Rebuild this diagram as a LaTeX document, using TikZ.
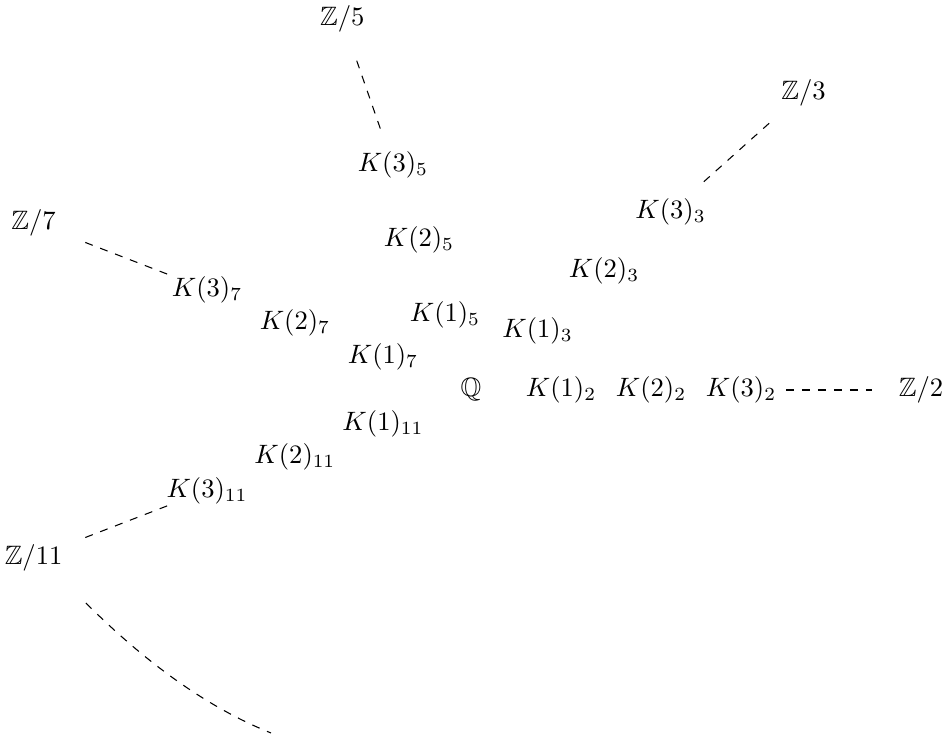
\documentclass[tikz,border=0pt]{standalone}
\usepackage{amsmath}
\usepackage{amssymb}
\usepackage{tikz}
\usetikzlibrary{calc}
\tikzset{
  knode/.style ={inner sep=2pt, font=\normalsize},
  fnode/.style ={inner sep=2pt, font=\normalsize},
  tail/.style  ={dashed, draw=black},
  more/.style  ={dashed, draw=black}
}

\begin{document}
\begin{tikzpicture}[x=1.19cm, y=1.19cm]
\useasboundingbox (-5.233,-3.856) rectangle (5.3,4.333);
% centre
\node[knode] (q) at (0,0) {$\mathbb{Q}$};

% p = 2
\node[knode] (k12) at (1,0) {$K(1)_2$};
\node[knode] (k22) at (2,0) {$K(2)_2$};
\node[knode] (k32) at (3,0) {$K(3)_2$};
\node[fnode] (z2) at (5,0) {$\mathbb{Z}/2$};
\draw[tail] ($(k32)!0.25!(z2)$) -- ($(k32)!0.73!(z2)$);

% p = 3
\node[knode] (k13) at (0.739,0.661) {$K(1)_3$};
\node[knode] (k23) at (1.478,1.322) {$K(2)_3$};
\node[knode] (k33) at (2.217,1.983) {$K(3)_3$};
\node[fnode] (z3) at (3.695,3.305) {$\mathbb{Z}/3$};
\draw[tail] ($(k33)!0.25!(z3)$) -- ($(k33)!0.75!(z3)$);

% p = 5
\node[knode] (k15) at (-0.289,0.833) {$K(1)_5$};
\node[knode] (k25) at (-0.578,1.667) {$K(2)_5$};
\node[knode] (k35) at (-0.867,2.5) {$K(3)_5$};
\node[fnode] (z5) at (-1.430,4.120) {$\mathbb{Z}/5$};
\draw[tail] ($(k35)!0.25!(z5)$) -- ($(k35)!0.72!(z5)$);

% p = 7
\node[knode] (k17) at (-0.978,0.372) {$K(1)_7$};
\node[knode] (k27) at (-1.956,0.744) {$K(2)_7$};
\node[knode] (k37) at (-2.933,1.117) {$K(3)_7$};
\node[fnode] (z7) at (-4.860,1.861) {$\mathbb{Z}/7$};
\draw[tail] ($(k37)!0.23!(z7)$) -- ($(k37)!0.71!(z7)$);

% p = 11
\node[knode] (k111) at (-0.978,-0.372) {$K(1)_{11}$};
\node[knode] (k211) at (-1.956,-0.744) {$K(2)_{11}$};
\node[knode] (k311) at (-2.933,-1.117) {$K(3)_{11}$};
\node[fnode] (z11) at (-4.860,-1.861) {$\mathbb{Z}/11$};
\draw[tail] ($(k311)!0.23!(z11)$) -- ($(k311)!0.71!(z11)$);

% and so on
\coordinate (m1) at (-4.278,-2.367);
\coordinate (m2) at (-2.222,-3.811);
\draw[more] (m1) .. controls (-3.587,-3.058) and (-2.901,-3.539) .. (m2);
\end{tikzpicture}
\end{document}
